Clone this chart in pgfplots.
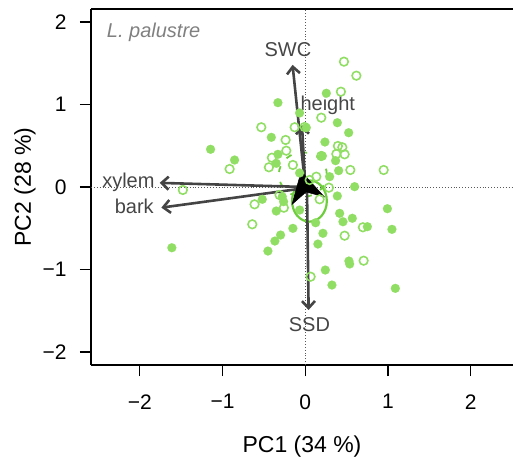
\documentclass[border=0pt]{standalone}
\usepackage{pgfplots}
\pgfplotsset{compat=1.18}
\usepackage{fontspec}
\setmainfont{Liberation Sans}
\usetikzlibrary{arrows.meta,calc}

\definecolor{ptgreen}{RGB}{145,222,100}
\definecolor{ellgreen}{RGB}{110,205,60}
\definecolor{arrgray}{RGB}{68,68,68}
\definecolor{labgray}{RGB}{70,70,70}

\begin{document}
\begin{tikzpicture}
\begin{axis}[
    width=422pt, height=356pt, scale only axis,
    xmin=-2.59, xmax=2.51,
    ymin=-2.157, ymax=2.157,
    axis x line*=bottom, axis y line*=left,
    axis line style={line width=1.2pt, black},
    xtick={-2,-1,0,1,2}, xticklabels={−2,−1,0,1,2},
    ytick={-2,-1,0,1,2}, yticklabels={−2,−1,0,1,2},
    tick align=outside, major tick length=11pt,
    tick style={line width=1.2pt, black},
    font=\fontsize{20}{24}\selectfont,
    ticklabel style={font=\fontsize{21}{24}\selectfont},
    label style={font=\fontsize{23}{26}\selectfont},
    xlabel={PC1 (34 \%)}, ylabel={PC2 (28 \%)},
    xticklabel style={yshift=-15pt},
    yticklabel style={xshift=-10pt},
    xlabel style={yshift=-20pt},
    ylabel style={yshift=0pt},
    clip=true,
]
\coordinate (SW) at (rel axis cs:0,0);
\coordinate (NE) at (rel axis cs:1,1);
\draw[line width=1.2pt] (rel axis cs:0,1) -- (rel axis cs:1,1);

% reference lines
\addplot[gray!70!black, line width=0.9pt, dotted] coordinates {(0,-2.157) (0,2.157)};
\addplot[gray!70!black, line width=0.9pt, dotted] coordinates {(-2.59,0) (2.51,0)};

% filled points
\addplot[only marks, color=ptgreen, mark=*, mark size=4.5pt,
    mark options={draw=ptgreen, fill=ptgreen, line width=0.1pt}] coordinates {
(-0.331,1.022) (-0.411,0.602) (-1.145,0.457) (-0.855,0.327) (-0.331,0.396)
(-0.069,0.897) (-0.069,0.170) (0.254,1.136) (0.387,0.779) (0.524,0.658)
(0.237,0.545) (0.206,0.376) (0.366,0.319) (0.403,0.198) (0.294,0.125)
(0.596,0.004) (0.012,0.719) (-1.613,-0.736) (-0.520,-0.149) (-0.351,-0.291)
(-0.278,-0.118) (-0.150,-0.501) (-0.299,-0.582) (-0.368,-0.655) (-0.452,-0.776)
(-0.069,-0.279) (0.387,-0.109) (0.415,-0.319) (0.455,-0.421) (0.568,-0.379)
(0.992,-0.263) (1.047,-0.513) (0.750,-0.481) (0.213,-0.561) (0.152,-0.691)
(0.527,-0.897) (0.536,-0.933) (0.242,-1.006) (0.322,-1.188) (1.088,-1.228)
(0.125,-0.433) (-0.351,0.287) (-0.262,-0.178)
};

% open points
\addplot[only marks, color=ptgreen, mark=o, mark size=4.3pt,
    mark options={draw=ptgreen, line width=1.6pt}] coordinates {
(-0.532,0.724) (-0.238,0.570) (-0.230,0.440) (-0.404,0.355) (-0.440,0.239)
(-0.915,0.218) (-0.150,0.267) (-0.129,0.724) (-0.008,0.727) (0.467,1.519)
(0.617,1.349) (0.430,1.155) (0.193,0.840) (0.394,0.497) (0.447,0.481)
(0.375,0.400) (0.475,0.396) (0.193,0.376) (0.544,0.206) (0.947,0.206)
(0.133,0.125) (-1.480,-0.036) (-0.613,-0.210) (-0.641,-0.452) (-0.259,-0.251)
(-0.311,-0.097) (0.285,-0.008) (0.173,-0.149) (0.696,-0.488) (0.475,-0.590)
(0.705,-0.893) (0.064,-1.087) (0.052,0.085)
};

% confidence ellipses
\draw[ellgreen, line width=1.8pt, dash pattern=on 6pt off 10pt]
  (axis cs:-0.03,0.15) ellipse [x radius=0.29, y radius=0.27];
\draw[ellgreen, line width=2.2pt]
  (axis cs:0.05,-0.17) ellipse [x radius=0.21, y radius=0.25];

% loadings
\pgfplotsset{loading/.style={arrgray, line width=2.6pt,
    -{Straight Barb[length=7pt, width=13pt]}}}
\addplot[loading] coordinates {(0,0) (-0.154,1.48)};
\addplot[loading] coordinates {(0,0) (-0.04,0.75)};
\addplot[loading] coordinates {(0,0) (-1.76,0.05)};
\addplot[loading] coordinates {(-0.05,-0.02) (-1.74,-0.25)};
\addplot[loading] coordinates {(0.02,0) (0.04,-1.49)};

% overlapping arrow heads at the origin
\addplot[fill=black, draw=black, line width=0.5pt] coordinates {
(-0.05,0.19) (-0.16,-0.21) (0.01,-0.06) (0.23,-0.12) (-0.05,0.19)
} -- cycle;

% labels
\node[labgray] at (axis cs:-0.21,1.67) {SWC};
\node[labgray, anchor=west, inner sep=0pt] at (axis cs:-0.06,0.99) {height};
\node[labgray, anchor=east, inner sep=0pt] at (axis cs:-1.82,0.06) {xylem};
\node[labgray, anchor=east, inner sep=0pt] at (axis cs:-1.83,-0.24) {bark};
\node[labgray] at (axis cs:0.05,-1.67) {SSD};
\node[gray, anchor=west, inner sep=0pt, font=\fontsize{20}{24}\selectfont\itshape]
  at (axis cs:-2.40,1.87) {L. palustre};
\end{axis}
\pgfresetboundingbox
\path[use as bounding box] ($(SW)+(-91pt,-96pt)$) rectangle ($(NE)+(0pt,9pt)$);
\end{tikzpicture}
\end{document}
